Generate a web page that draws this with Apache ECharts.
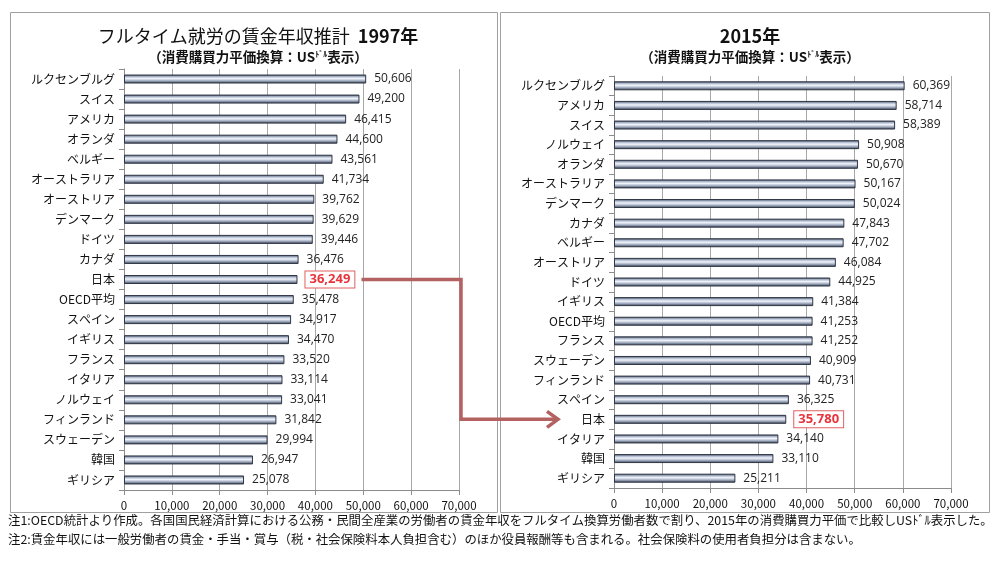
<!DOCTYPE html>
<html>
<head>
<meta charset="utf-8">
<script src="https://cdn.jsdelivr.net/npm/echarts@6/dist/echarts.min.js"></script>
<style>
html, body { margin: 0; padding: 0; background: #fff; }
#echart { width: 993px; height: 565px; }
</style>
</head>
<body>
<div id="echart"></div>
<script>
// 1997年
var cats1997 = ['ルクセンブルグ', 'スイス', 'アメリカ', 'オランダ', 'ベルギー', 'オーストラリア', 'オーストリア', 'デンマーク', 'ドイツ', 'カナダ', '日本', 'OECD平均', 'スペイン', 'イギリス', 'フランス', 'イタリア', 'ノルウェイ', 'フィンランド', 'スウェーデン', '韓国', 'ギリシア'];
var vals1997 = [50606, 49200, 46415, 44600, 43561, 41734, 39762, 39629, 39446, 36476, 36249, 35478, 34917, 34470, 33520, 33114, 33041, 31842, 29994, 26947, 25078];
// 2015年
var cats2015 = ['ルクセンブルグ', 'アメリカ', 'スイス', 'ノルウェイ', 'オランダ', 'オーストラリア', 'デンマーク', 'カナダ', 'ベルギー', 'オーストリア', 'ドイツ', 'イギリス', 'OECD平均', 'フランス', 'スウェーデン', 'フィンランド', 'スペイン', '日本', 'イタリア', '韓国', 'ギリシア'];
var vals2015 = [60369, 58714, 58389, 50908, 50670, 50167, 50024, 47843, 47702, 46084, 44925, 41384, 41253, 41252, 40909, 40731, 36325, 35780, 34140, 33110, 25211];
var xMax = 70000, xStep = 10000;
var highlight = '日本';

var FONT = '"Noto Sans CJK JP", sans-serif';
var myChart = echarts.init(document.getElementById("echart"));

var barColor = new echarts.graphic.LinearGradient(0, 0, 0, 1, [
    { offset: 0, color: '#363e4c' },
    { offset: 0.25, color: '#b3bed3' },
    { offset: 0.45, color: '#f2f5fb' },
    { offset: 0.7, color: '#a2adc2' },
    { offset: 1, color: '#2c3341' }
]);

function barData(cats, vals) {
    return vals.map(function (v, i) {
        var item = { value: v };
        if (cats[i] === highlight) {
            item.label = {
                color: '#e8343a', fontWeight: 'bold', fontSize: 13,
                backgroundColor: '#fff', borderColor: '#e06060', borderWidth: 1,
                padding: [2, 4, 1, 4]
            };
        }
        return item;
    });
}

function xAxisOpt(idx) {
    return {
        type: 'value', gridIndex: idx, min: 0, max: xMax, interval: xStep,
        axisLine: { show: true, lineStyle: { color: '#8c8c8c' } },
        axisTick: { show: true, length: 5, lineStyle: { color: '#8c8c8c' } },
        splitLine: { show: true, lineStyle: { color: '#a8a8a8' } },
        axisLabel: {
            color: '#111', fontSize: 11.5, fontFamily: FONT, margin: 10,
            formatter: function (v) { return v.toLocaleString('en-US'); }
        }
    };
}

function yAxisOpt(idx, cats) {
    return {
        type: 'category', gridIndex: idx, data: cats, inverse: true,
        axisLine: { show: true, lineStyle: { color: '#8c8c8c' } },
        axisTick: { show: true, length: 5, lineStyle: { color: '#8c8c8c' } },
        axisLabel: { color: '#111', fontSize: 12, fontFamily: FONT, margin: 9 }
    };
}

function seriesOpt(idx, cats, vals) {
    return {
        type: 'bar', xAxisIndex: idx, yAxisIndex: idx,
        data: barData(cats, vals),
        barWidth: 9,
        itemStyle: { color: barColor, borderColor: '#2f3645', borderWidth: 1 },
        label: {
            show: true, position: 'right', distance: 8,
            color: '#222', fontSize: 12, fontFamily: '"Open Sans", sans-serif',
            formatter: function (p) { return p.value.toLocaleString('en-US'); }
        },
        silent: true
    };
}

var subRich = {
    s: { fontSize: 13.5, fontWeight: 'bold', fontFamily: FONT, color: '#111' },
    d: { fontSize: 8, fontWeight: 'bold', fontFamily: FONT, color: '#111', verticalAlign: 'top', padding: [0, 0, 6, 0] }
};
var subText = '{s|（消費購買力平価換算：US}{d|ﾄﾞﾙ}{s|表示）}';

option = {
    backgroundColor: '#fff',
    animation: false,
    title: [
        {
            text: '{a|フルタイム就労の賃金年収推計  }{b|1997年}',
            left: 253, top: 22, textAlign: 'center',
            textStyle: { rich: {
                a: { fontSize: 18, fontWeight: 'normal', fontFamily: FONT, color: '#111' },
                b: { fontSize: 18, fontWeight: 'bold', fontFamily: FONT, color: '#111' }
            } }
        },
        { text: subText, left: 253, top: 45, textAlign: 'center', textStyle: { rich: subRich } },
        {
            text: '2015年', left: 745, top: 22, textAlign: 'center',
            textStyle: { fontSize: 18, fontWeight: 'bold', fontFamily: FONT, color: '#111' }
        },
        { text: subText, left: 745, top: 45, textAlign: 'center', textStyle: { rich: subRich } }
    ],
    grid: [
        { left: 124, right: 534, top: 69, bottom: 75 },
        { left: 614, right: 42, top: 76, bottom: 77 }
    ],
    xAxis: [xAxisOpt(0), xAxisOpt(1)],
    yAxis: [yAxisOpt(0, cats1997), yAxisOpt(1, cats2015)],
    series: [seriesOpt(0, cats1997, vals1997), seriesOpt(1, cats2015, vals2015)],
    graphic: [
        { id: 'boxL', type: 'rect', shape: { x: 10.5, y: 12.5, width: 487, height: 500 }, style: { fill: null, stroke: '#a0a0a0', lineWidth: 1 }, z: -1 },
        { id: 'boxR', type: 'rect', shape: { x: 500.5, y: 12.5, width: 489, height: 500 }, style: { fill: null, stroke: '#a0a0a0', lineWidth: 1 }, z: -1 },
        {
            id: 'note1', type: 'text', left: 8, top: 514,
            style: { text: '注1:OECD統計より作成。各国国民経済計算における公務・民間全産業の労働者の賃金年収をフルタイム換算労働者数で割り、2015年の消費購買力平価で比較しUSﾄﾞﾙ表示した。', font: '12.4px ' + FONT, fill: '#111' }
        },
        {
            id: 'note2', type: 'text', left: 8, top: 533,
            style: { text: '注2:賃金年収には一般労働者の賃金・手当・賞与（税・社会保険料本人負担含む）のほか役員報酬等も含まれる。社会保険料の使用者負担分は含まない。', font: '12.4px ' + FONT, fill: '#111' }
        }
    ]
};
myChart.setOption(option);

// 日本の位置を矢印で結ぶ
var iL = cats1997.indexOf(highlight), iR = cats2015.indexOf(highlight);
var pL = myChart.convertToPixel({ seriesIndex: 0 }, [vals1997[iL], iL]);
var pR = myChart.convertToPixel({ seriesIndex: 1 }, [vals2015[iR], iR]);
var xTurn = myChart.convertToPixel({ xAxisIndex: 0 }, xMax) + 2;
var xR0 = myChart.convertToPixel({ xAxisIndex: 1 }, 0);
var startX = pL[0] + 64, tipX = xR0 - 56;
var arrowCol = '#b46161';
myChart.setOption({
    graphic: [
        {
            id: 'arrowLine', type: 'polyline',
            shape: { points: [[startX, pL[1]], [xTurn, pL[1]], [xTurn, pR[1]], [tipX, pR[1]]] },
            style: { stroke: arrowCol, lineWidth: 3.5, fill: null, lineJoin: 'miter' }, z: 10
        },
        {
            id: 'arrowHead', type: 'polyline',
            shape: { points: [[tipX - 11, pR[1] - 8], [tipX, pR[1]], [tipX - 11, pR[1] + 8]] },
            style: { stroke: arrowCol, lineWidth: 3.5, fill: null, lineJoin: 'miter' }, z: 10
        }
    ]
});
</script>
</body>
</html>
